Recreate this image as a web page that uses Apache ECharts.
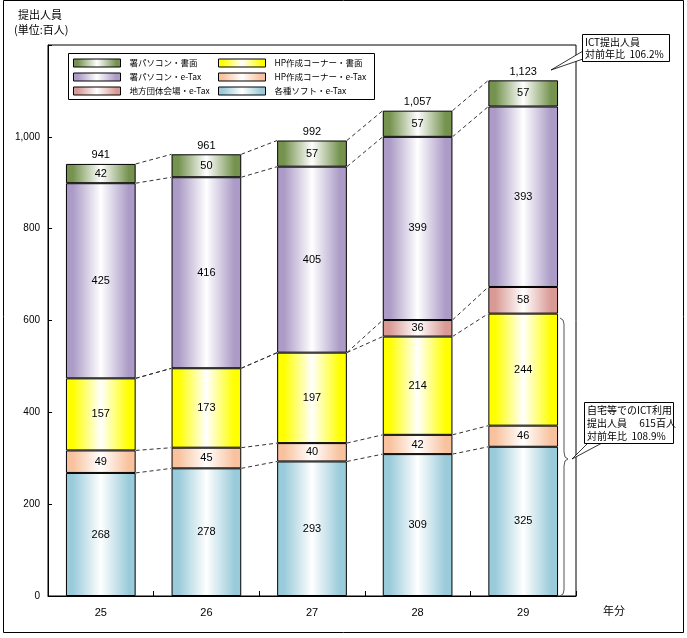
<!DOCTYPE html>
<html><head><meta charset="utf-8">
<script src="https://cdn.jsdelivr.net/npm/echarts@6/dist/echarts.min.js"></script>
<style>html,body{margin:0;padding:0;background:#fff}#c{width:687px;height:638px}</style>
</head><body><div id="c"></div>
<script>
var categories = ['25', '26', '27', '28', '29'];
var softEtax   = [268, 278, 293, 309, 325];   // 各種ソフト・e-Tax
var hpEtax     = [49, 45, 40, 42, 46];        // HP作成コーナー・e-Tax
var hpPaper    = [157, 173, 197, 214, 244];   // HP作成コーナー・書面
var localEtax  = [null, null, null, 36, 58];  // 地方団体会場・e-Tax
var pcEtax     = [425, 416, 405, 399, 393];   // 署パソコン・e-Tax
var pcPaper    = [42, 50, 57, 57, 57];        // 署パソコン・書面
var totals     = [941, 961, 992, 1057, 1123];
var yTicks     = [0, 200, 400, 600, 800, 1000];

var JP = '"Noto Sans CJK JP","Noto Sans",sans-serif';
var NUM = '"Liberation Sans",Arial,sans-serif';

function grad(c) {
  return {type: 'linear', x: 0, y: 0, x2: 1, y2: 0, colorStops: [
    {offset: 0, color: c}, {offset: 0.1, color: c}, {offset: 0.5, color: '#ffffff'}, {offset: 0.9, color: c}, {offset: 1, color: c}
  ]};
}

var seriesDefs = [
  {name: '各種ソフト・e-Tax', data: softEtax, color: '#9acbda'},
  {name: 'HP作成コーナー・e-Tax', data: hpEtax, color: '#f8c29e'},
  {name: 'HP作成コーナー・書面', data: hpPaper, color: '#ffff00'},
  {name: '地方団体会場・e-Tax', data: localEtax, color: '#d99a95'},
  {name: '署パソコン・e-Tax', data: pcEtax, color: '#ab9bc6'},
  {name: '署パソコン・書面', data: pcPaper, color: '#75934f'}
];

var cum = [];
var running = categories.map(function(){return 0;});
seriesDefs.forEach(function(s){
  running = running.map(function(v, i){ return v + (s.data[i] || 0); });
  cum.push(running.slice());
});

var series = seriesDefs.map(function(s){
  return {
    name: s.name, type: 'bar', stack: 'a', barWidth: '66%',
    data: s.data,
    itemStyle: {color: grad(s.color), borderColor: '#000', borderWidth: 1},
    label: {show: true, position: 'inside', color: '#000', fontSize: 11, fontFamily: NUM,
            formatter: function(p){ return p.value ? String(p.value) : ''; }},
    emphasis: {disabled: true}
  };
});
series.push({
  name: 'total', type: 'bar', stack: 'a', barWidth: '66%',
  data: totals.map(function(){return 0;}),
  itemStyle: {color: 'transparent'},
  label: {show: true, position: 'top', distance: 3, color: '#000', fontSize: 11, fontFamily: NUM,
          formatter: function(p){ return totals[p.dataIndex].toLocaleString('en-US'); }}
});
series.push({
  type: 'custom', clip: false, z: 5,
  data: categories.slice(0, categories.length - 1).map(function(c, i){ return [i]; }),
  encode: {x: 0},
  renderItem: function(params, api){
    var i = params.dataIndex;
    var bw = api.size([1, 0])[0] * 0.66;
    var children = [];
    cum.forEach(function(arr){
      var a = api.coord([i, arr[i]]);
      var b = api.coord([i + 1, arr[i + 1]]);
      children.push({type: 'line', shape: {x1: a[0] + bw / 2, y1: a[1], x2: b[0] - bw / 2, y2: b[1]},
        style: {stroke: '#333', lineWidth: 1, lineDash: [4, 3]}});
    });
    return {type: 'group', children: children};
  }
});

var leftNames = ['署パソコン・書面', '署パソコン・e-Tax', '地方団体会場・e-Tax'];
var rightNames = ['HP作成コーナー・書面', 'HP作成コーナー・e-Tax', '各種ソフト・e-Tax'];
function legendCfg(names, left) {
  return {
    data: names, left: left, top: 58, orient: 'vertical', itemWidth: 47, itemHeight: 8, itemGap: 4,
    selectedMode: false, icon: 'rect', padding: 0,
    itemStyle: {borderColor: '#000', borderWidth: 1},
    textStyle: {fontSize: 8.5, fontFamily: JP, color: '#000', padding: [0, 0, 0, 4], lineHeight: 10}
  };
}

var chart = echarts.init(document.getElementById('c'));
chart.setOption({
  animation: false,
  backgroundColor: '#fff',
  grid: {left: 48, right: 111, top: 45, bottom: 42, show: true, borderColor: '#000', borderWidth: 1},
  legend: [legendCfg(leftNames, 73), legendCfg(rightNames, 218)],
  xAxis: {
    type: 'category', data: categories,
    axisLine: {lineStyle: {color: '#000'}},
    axisTick: {show: true, inside: true, length: 5, lineStyle: {color: '#000'}},
    axisLabel: {color: '#000', fontSize: 11, fontFamily: NUM, margin: 11}
  },
  yAxis: {
    type: 'value', min: yTicks[0], max: 1200, interval: 200,
    splitLine: {show: false},
    axisLine: {show: true, lineStyle: {color: '#000'}},
    axisTick: {show: true, inside: true, length: 4, lineStyle: {color: '#000'}},
    axisLabel: {color: '#000', fontSize: 10, fontFamily: NUM, margin: 8,
      formatter: function(v){ return yTicks.indexOf(v) >= 0 ? v.toLocaleString('en-US') : ''; }}
  },
  series: series,
  graphic: [
    {type: 'rect', shape: {x: 3.5, y: 0.5, width: 680, height: 632}, style: {fill: null, stroke: '#000', lineWidth: 1}, silent: true},
    {type: 'text', x: 18, y: 9, style: {text: '提出人員', font: '11px ' + JP, fill: '#000'}},
    {type: 'text', x: 14, y: 24, style: {text: '(単位:百人)', font: '11px ' + JP, fill: '#000'}},
    {type: 'rect', shape: {x: 68.5, y: 53.5, width: 306, height: 46}, style: {fill: null, stroke: '#000', lineWidth: 1}, z: 1},
    {type: 'text', x: 603, y: 605, style: {text: '年分', font: '11px ' + JP, fill: '#000'}},
    {type: 'polygon', shape: {points: [[583, 51], [551, 70], [583, 59]]}, style: {fill: '#fff', stroke: '#000', lineWidth: 0.8}, z: 10},
    {type: 'rect', shape: {x: 582.5, y: 34.5, width: 87, height: 27}, style: {fill: '#fff', stroke: '#000', lineWidth: 1}, z: 11},
    {type: 'text', x: 585, y: 36, z: 12, style: {text: 'ICT提出人員\n対前年比  106.2%', font: '10px ' + JP, lineHeight: 12, fill: '#000'}},
    {type: 'polyline', z: 10, shape: {points: [[560, 318], [563, 320], [564, 324], [564, 452], [565, 457], [568, 459], [565, 461], [564, 466], [564, 590], [563, 594], [560, 596]]},
     style: {fill: null, stroke: '#555', lineWidth: 1}},
    {type: 'polygon', shape: {points: [[588, 443], [572, 459], [602, 443]]}, style: {fill: '#fff', stroke: '#000', lineWidth: 0.8}, z: 10},
    {type: 'rect', shape: {x: 584.5, y: 402.5, width: 89, height: 41}, style: {fill: '#fff', stroke: '#000', lineWidth: 1}, z: 11},
    {type: 'text', x: 587, y: 404, z: 12, style: {text: '自宅等でのICT利用\n提出人員　 615百人\n対前年比  108.9%', font: '10px ' + JP, lineHeight: 13, fill: '#000'}}
  ]
});
</script></body></html>
